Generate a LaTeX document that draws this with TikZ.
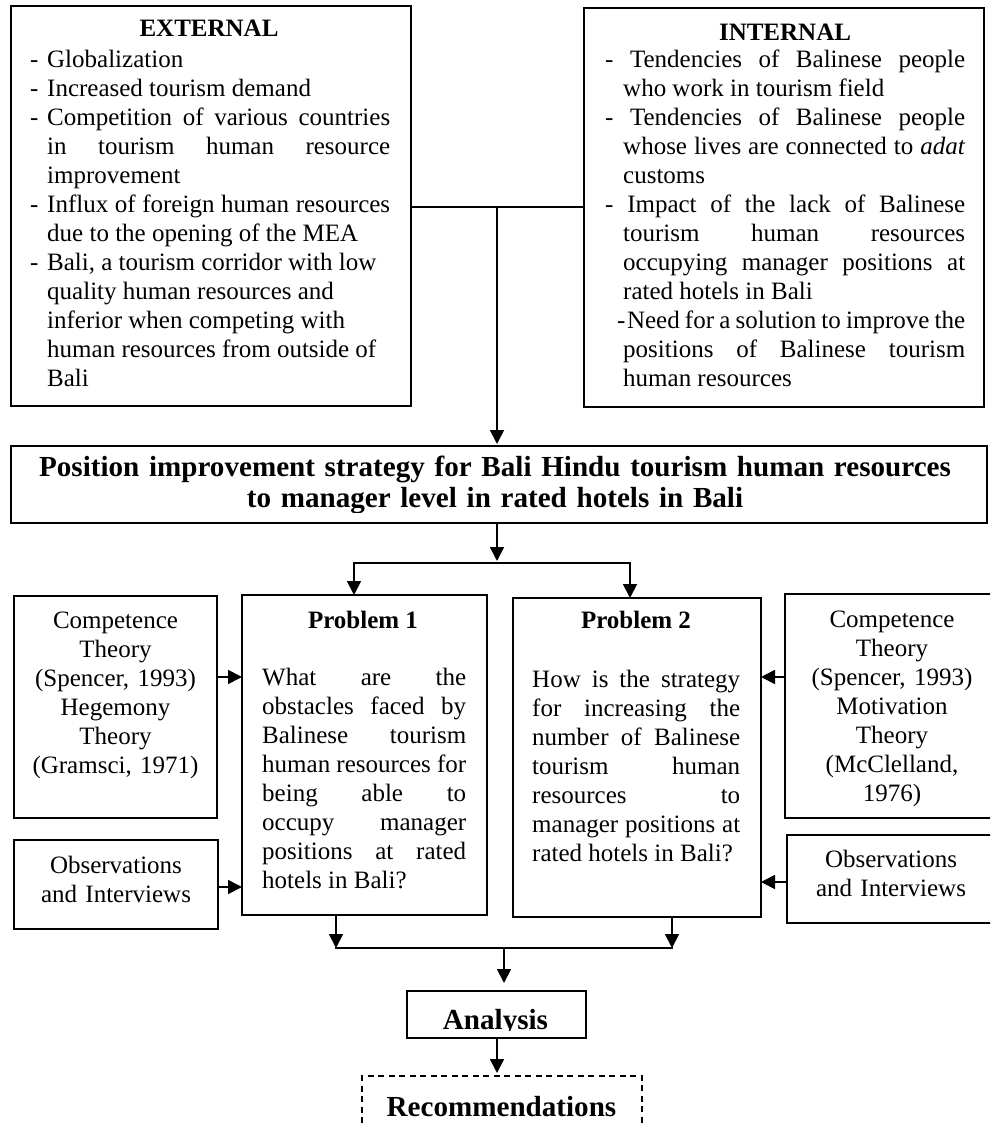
\documentclass[tikz,border=0pt]{standalone}
\usepackage{fontspec}
\setmainfont{Liberation Serif}
\usetikzlibrary{arrows.meta}
\newcommand\extitem[1]{\hangindent=17pt\hangafter=1\noindent\makebox[17pt][l]{-}#1\par}
\newcommand\intitem[1]{\hangindent=18pt\hangafter=1\noindent#1\par}
\begin{document}
\begin{tikzpicture}[x=1pt,y=-1pt,
  box/.style={draw, line width=1.8pt, inner sep=0pt, outer sep=0pt},
  dbox/.style={draw, line width=1.4pt, dash pattern=on 6pt off 4.5pt, inner sep=0pt, outer sep=0pt},
  conn/.style={line width=1.8pt, line cap=rect},
  arr/.style={line width=1.8pt, -{Triangle[length=14pt,width=14pt]}},
  txt/.style={inner sep=0pt, font=\fontsize{25}{29}\selectfont},
  btxt/.style={inner sep=0pt, font=\fontsize{25}{29}\selectfont\bfseries},
  big/.style={inner sep=0pt, font=\fontsize{29.1}{31}\selectfont\bfseries},
]
\path[use as bounding box] (0,0) rectangle (990,1123);
\clip (0,0) rectangle (990,1123);

% ---------- boxes ----------
\node[box, minimum width=400pt, minimum height=400pt] (ext) at (211,206) {};
\node[box, minimum width=400pt, minimum height=399pt] (int) at (784,207.5) {};
\node[box, minimum width=976pt, minimum height=77pt] (title) at (499,484.5) {};
\node[box, minimum width=203pt, minimum height=222pt] (comp1) at (115.5,707) {};
\node[box, minimum width=204pt, minimum height=89pt] (obs1) at (116,884.5) {};
\node[box, minimum width=245pt, minimum height=320pt] (p1) at (364.5,755) {};
\node[box, minimum width=248pt, minimum height=319pt] (p2) at (637,757.5) {};
\node[box, minimum width=235pt, minimum height=224pt] (comp2) at (902.5,706) {};
\node[box, minimum width=233pt, minimum height=88pt] (obs2) at (903.5,879) {};
\node[box, minimum width=179pt, minimum height=47pt] (ana) at (496.5,1014.5) {};
\node[dbox, minimum width=280pt, minimum height=50pt] (rec) at (502,1101) {};

% ---------- texts ----------
\node[btxt, anchor=base] (extT) at (209,37) {EXTERNAL};
\node[txt, anchor=base west, text width=360pt, align=justify] (extB) at (30,68) {%
\extitem{Globalization}%
\extitem{Increased tourism demand}%
\extitem{Competition of various countries\linebreak in tourism human resource\linebreak improvement}%
\extitem{Influx of foreign human resources\linebreak due to the opening of the MEA}%
\extitem{Bali, a tourism corridor with low\newline quality human resources and\newline inferior when competing with\newline human resources from outside of\newline Bali}};

\node[btxt, anchor=base] (intT) at (785,41) {INTERNAL};
\node[txt, anchor=base west, text width=360pt, align=justify] (intB) at (605,68) {%
\intitem{- Tendencies of Balinese people\linebreak who work in tourism field}%
\intitem{- Tendencies of Balinese people\linebreak whose lives are connected to \textit{adat}\linebreak customs}%
\intitem{- Impact of the lack of Balinese\linebreak tourism human resources\linebreak occupying manager positions at\linebreak rated hotels in Bali}%
\intitem{\hspace*{12pt}-\hspace{1.5pt}Need for a solution to improve the\linebreak positions of Balinese tourism\linebreak human resources}};

\begin{scope}
\clip (11,446) rectangle (987,512);
\node[big, anchor=base, text width=976pt, align=center] (titleT) at (495,476)
  {Position improvement strategy for Bali Hindu tourism human resources\\to manager level in rated hotels in Bali};
\end{scope}

\node[txt, anchor=base, text width=200pt, align=center] (comp1T) at (115.5,628)
  {Competence\\Theory\\(Spencer, 1993)\\Hegemony\\Theory\\(Gramsci, 1971)};
\node[txt, anchor=base, text width=200pt, align=center] (obs1T) at (116,873)
  {Observations\\and Interviews};

\node[btxt, anchor=base] (p1T) at (363,628) {Problem 1};
\node[txt, anchor=base west, text width=204pt, align=justify] (p1B) at (262,685)
  {What are the\linebreak obstacles faced by\linebreak Balinese tourism\linebreak human resources for\linebreak being able to\linebreak occupy manager\linebreak positions at rated\linebreak hotels in Bali?};

\node[btxt, anchor=base] (p2T) at (636,628) {Problem 2};
\node[txt, anchor=base west, text width=208pt, align=justify] (p2B) at (532,687)
  {How is the strategy\linebreak for increasing the\linebreak number of Balinese\linebreak tourism human\linebreak resources to\linebreak manager positions at\linebreak rated hotels in Bali?};

\node[txt, anchor=base, text width=210pt, align=center] (comp2T) at (892,627)
  {Competence\\Theory\\(Spencer, 1993)\\Motivation\\Theory\\(McClelland,\\1976)};
\node[txt, anchor=base, text width=210pt, align=center] (obs2T) at (891,867)
  {Observations\\and Interviews};

\begin{scope}
\clip (407,991) rectangle (586,1030);
\node[big, anchor=base] (anaT) at (495.5,1029) {Analysis};
\end{scope}
\node[big, anchor=base] (recT) at (501.5,1116) {Recommendations};

% ---------- connectors ----------
\coordinate (j1) at (497,207);
\draw[conn] (ext.east |- j1) -- (int.west |- j1);
\draw[arr, shorten >=2pt] (j1) -- (j1 |- title.north);

\coordinate (j2) at (497,563);
\draw[arr, shorten >=2pt] (j1 |- title.south) -- (j2);
\coordinate (s1) at (354,563);
\coordinate (s2) at (630,563);
\draw[conn] (s1) -- (s2);
\draw[arr] (s1) -- (s1 |- p1.north);
\draw[arr] (s2) -- (s2 |- p2.north);

\coordinate (r1) at (0,677);
\coordinate (r2) at (0,887);
\coordinate (r3) at (0,882);
\draw[arr] (comp1.east |- r1) -- (p1.west |- r1);
\draw[arr] (obs1.east |- r2) -- (p1.west |- r2);
\draw[arr] (comp2.west |- r1) -- (p2.east |- r1);
\draw[arr] (obs2.west |- r3) -- (p2.east |- r3);

\coordinate (m1) at (336,948);
\coordinate (m2) at (672,948);
\coordinate (m3) at (504,948);
\draw[arr] (m1 |- p1.south) -- (m1);
\draw[arr] (m2 |- p2.south) -- (m2);
\draw[conn] (m1) -- (m2);
\draw[arr, shorten >=8pt] (m3) -- (m3 |- ana.north);
\coordinate (a1) at (497,0);
\draw[arr, shorten >=3pt] (a1 |- ana.south) -- (a1 |- rec.north);
\end{tikzpicture}
\end{document}
